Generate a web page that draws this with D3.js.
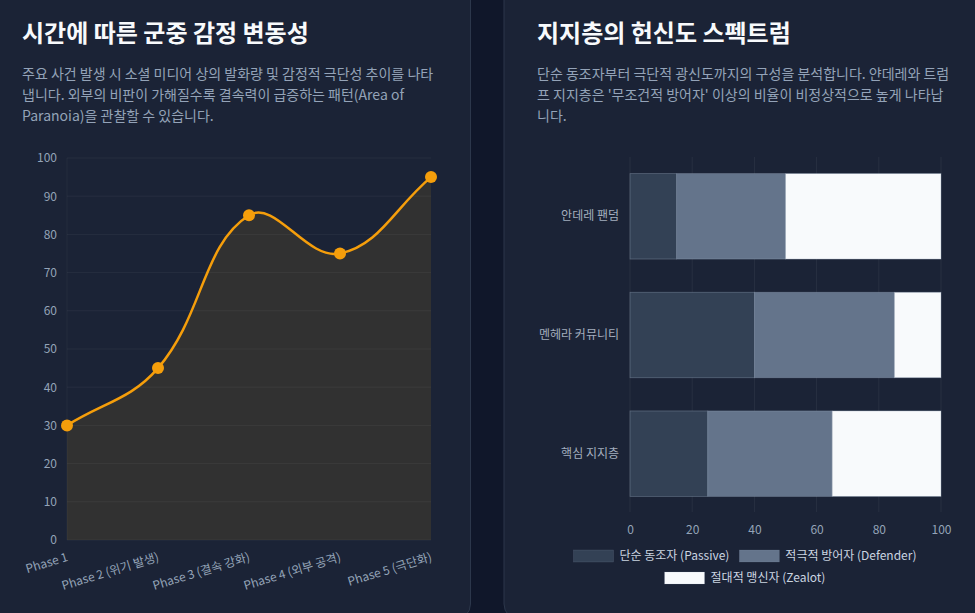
<!DOCTYPE html>
<html><head><meta charset="utf-8">
<script src="https://cdn.jsdelivr.net/npm/d3@7/dist/d3.min.js"></script>
<style>
html,body{margin:0;padding:0;background:#10172a;overflow:hidden;}
svg{display:block;font-family:"Noto Sans CJK KR","Noto Sans",sans-serif;}
</style></head>
<body>
<svg id="c" width="975" height="613"></svg>
<script>
// ---- data: left chart ----
const phases = ["Phase 1","Phase 2 (위기 발생)","Phase 3 (결속 강화)","Phase 4 (외부 공격)","Phase 5 (극단화)"];
const volatility = [30,45,85,75,95];
const volTicks = [0,10,20,30,40,50,60,70,80,90,100];
// ---- data: right chart ----
const groups = ["안데레 팬덤","멘헤라 커뮤니티","핵심 지지층"];
const seriesNames = ["단순 동조자 (Passive)","적극적 방어자 (Defender)","절대적 맹신자 (Zealot)"];
const passive = [15,40,25];
const defender = [35,45,40];
const zealot = [50,15,35];
const shareTicks = [0,20,40,60,80,100];
// ---- texts ----
const leftTitle = "시간에 따른 군중 감정 변동성";
const leftDesc = ["주요 사건 발생 시 소셜 미디어 상의 발화량 및 감정적 극단성 추이를 나타",
                  "냅니다. 외부의 비판이 가해질수록 결속력이 급증하는 패턴(Area of",
                  "Paranoia)을 관찰할 수 있습니다."];
const rightTitle = "지지층의 헌신도 스펙트럼";
const rightDesc = ["단순 동조자부터 극단적 광신도까지의 구성을 분석합니다. 얀데레와 트럼",
                   "프 지지층은 '무조건적 방어자' 이상의 비율이 비정상적으로 높게 나타납",
                   "니다."];

const svg = d3.select("#c");
svg.append("rect").attr("width",975).attr("height",613).attr("fill","#10172a");

// cards
[[-12,470.5],[504,987]].forEach(([x0,x1])=>{
  svg.append("rect").attr("x",x0).attr("y",-30).attr("width",x1-x0).attr("height",650)
    .attr("rx",16).attr("fill","#1b2336").attr("stroke","#2c374b").attr("stroke-width",1);
});

function header(x, title, lines){
  svg.append("text").attr("x",x).attr("y",42).attr("fill","#f8fafc")
    .attr("font-size",24).attr("font-weight",700).text(title);
  lines.forEach((l,i)=>svg.append("text").attr("x",x).attr("y",79+i*20.8)
    .attr("fill","#94a3b8").attr("font-size",14).text(l));
}
header(22,leftTitle,leftDesc);
header(537,rightTitle,rightDesc);

// ===== left: line chart =====
const x = d3.scalePoint().domain(phases).range([67,431]);
const y = d3.scaleLinear().domain([0,100]).range([540,158]);
const gL = svg.append("g");

// area + line with Chart.js-like spline (tension 0.4)
const pts = phases.map((p,i)=>({x:x(p), y:y(volatility[i])}));
const t = 0.4;
const cps = pts.map((c,i)=>{
  const p = pts[i-1]||c, n = pts[i+1]||c;
  const d01 = Math.hypot(c.x-p.x,c.y-p.y), d12 = Math.hypot(n.x-c.x,n.y-c.y);
  let s01 = d01/(d01+d12), s12 = d12/(d01+d12);
  if(isNaN(s01)) s01=0; if(isNaN(s12)) s12=0;
  const fa=t*s01, fb=t*s12;
  const clampY = v=>Math.max(y(100),Math.min(y(0),v));
  return {px:c.x-fa*(n.x-p.x), py:clampY(c.y-fa*(n.y-p.y)),
          nx:c.x+fb*(n.x-p.x), ny:clampY(c.y+fb*(n.y-p.y))};
});
function splinePath(ctx){
  ctx.moveTo(pts[0].x,pts[0].y);
  for(let i=1;i<pts.length;i++){
    ctx.bezierCurveTo(cps[i-1].nx,cps[i-1].ny,cps[i].px,cps[i].py,pts[i].x,pts[i].y);
  }
  return ctx;
}
const ap = splinePath(d3.path());
ap.lineTo(pts[pts.length-1].x,y(0)); ap.lineTo(pts[0].x,y(0)); ap.closePath();
gL.append("path").attr("d",ap.toString()).attr("fill","#313131");

// grid
gL.selectAll(".hg").data(volTicks).join("line")
  .attr("x1",67).attr("x2",431).attr("y1",d=>y(d)).attr("y2",d=>y(d))
  .attr("stroke","rgba(255,255,255,0.05)").attr("stroke-width",1);
gL.append("line").attr("x1",67).attr("x2",67).attr("y1",y(100)).attr("y2",y(0))
  .attr("stroke","rgba(255,255,255,0.04)");

// y axis
const yAx = gL.append("g").attr("transform","translate(57,0)")
  .call(d3.axisLeft(y).tickValues(volTicks).tickSize(0).tickPadding(0));
yAx.select(".domain").remove();
yAx.selectAll("text").attr("fill","#94a3b8").attr("font-size",12)
  .attr("font-family","'Noto Sans CJK KR',sans-serif");

// line
gL.append("path").attr("d",splinePath(d3.path()).toString()).attr("fill","none")
  .attr("stroke","#f59e0b").attr("stroke-width",2.5);
gL.selectAll(".pt").data(pts).join("circle")
  .attr("cx",d=>d.x).attr("cy",d=>d.y).attr("r",6).attr("fill","#f59e0b");

// x labels rotated
gL.selectAll(".xl").data(phases).join("text")
  .attr("transform",d=>`translate(${x(d)-1},552) rotate(-17)`)
  .attr("text-anchor","end").attr("dy","0.75em")
  .attr("fill","#94a3b8").attr("font-size",12).text(d=>d);

// ===== right: stacked bars =====
const bx = d3.scaleLinear().domain([0,100]).range([630,941]);
const by = d3.scaleBand().domain(groups).range([157,513]).paddingInner(0.28).paddingOuter(0.14);
const gR = svg.append("g");
gR.selectAll(".vg").data(shareTicks).join("line")
  .attr("x1",d=>bx(d)).attr("x2",d=>bx(d)).attr("y1",157).attr("y2",512)
  .attr("stroke","rgba(255,255,255,0.06)");

const colors = ["#334155","#64748b","#f8fafc"];
const table = groups.map((g,i)=>({group:g, s0:passive[i], s1:defender[i], s2:zealot[i]}));
const stack = d3.stack().keys(["s0","s1","s2"])(table);
stack.forEach((layer,li)=>{
  gR.selectAll(".b"+li).data(layer).join("rect")
    .attr("x",d=>bx(d[0])).attr("width",d=>bx(d[1])-bx(d[0]))
    .attr("y",d=>by(d.data.group)).attr("height",by.bandwidth())
    .attr("fill",colors[li]).attr("stroke","rgba(148,163,184,0.45)").attr("stroke-width",0.8);
});

const xAx = gR.append("g").attr("transform","translate(0,525)")
  .call(d3.axisBottom(bx).tickValues(shareTicks).tickSize(0).tickPadding(0));
xAx.select(".domain").remove();
xAx.selectAll("text").attr("fill","#94a3b8").attr("font-size",12)
  .attr("font-family","'Noto Sans CJK KR',sans-serif");

const yAxR = gR.append("g").attr("transform","translate(619,0)")
  .call(d3.axisLeft(by).tickSize(0).tickPadding(0));
yAxR.select(".domain").remove();
yAxR.selectAll("text").attr("fill","#a3aebe").attr("font-size",12)
  .attr("font-family","'Noto Sans CJK KR',sans-serif");

// legend
const rows = [[0,1],[2]];
rows.forEach((row,ri)=>{
  const cy = 556 + ri*22;
  const g = gR.append("g");
  let cx = 0;
  row.forEach(si=>{
    const it = g.append("g");
    it.append("rect").attr("x",0).attr("y",-6).attr("width",40).attr("height",12)
      .attr("fill",colors[si]).attr("stroke","rgba(148,163,184,0.3)").attr("stroke-width",0.5);
    const tx = it.append("text").attr("x",46).attr("y",0).attr("dy","0.35em")
      .attr("fill","#cbd5e1").attr("font-size",12).text(seriesNames[si]);
    const w = 46 + tx.node().getComputedTextLength();
    it.attr("transform",`translate(${cx},${cy})`);
    cx += w + 10;
  });
  const total = cx - 10;
  g.attr("transform",`translate(${745 - total/2},0)`);
});
</script>
</body></html>
